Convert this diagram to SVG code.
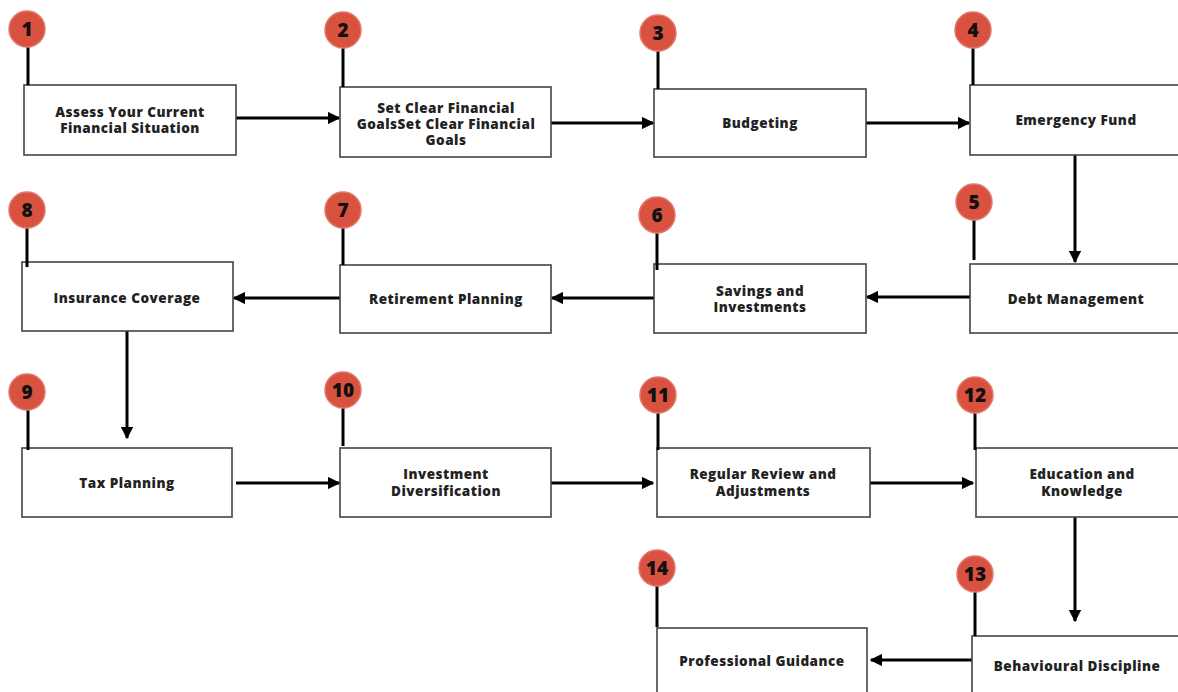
<svg xmlns="http://www.w3.org/2000/svg" width="1178" height="692" viewBox="0 0 1178 692">
<defs>
<marker id="ah" viewBox="0 0 10 10" refX="9" refY="5" markerWidth="4.2" markerHeight="4.2" orient="auto" markerUnits="strokeWidth">
<path d="M0,0 L10,5 L0,10 Z" fill="#000"/>
</marker>
</defs>
<style>
.box{fill:#fff;stroke:#444;stroke-width:1.6}
.lbl{font-family:"Open Sans","Liberation Sans",sans-serif;font-weight:800;font-size:13.5px;letter-spacing:0.5px;fill:#222;text-anchor:middle}
.badge{fill:#d9513f;stroke:#e07a6c;stroke-width:1.5}
.num{font-family:"Open Sans","Liberation Sans",sans-serif;font-weight:800;font-size:19px;fill:#111;text-anchor:middle}
.stem{stroke:#000;stroke-width:3}
.conn{stroke:#000;stroke-width:3;fill:none;marker-end:url(#ah)}
</style>
<rect width="1178" height="692" fill="#fff"/>
<g id="connectors">
<line class="conn" x1="236" y1="118" x2="339" y2="118"/>
<line class="conn" x1="551" y1="123" x2="653" y2="123"/>
<line class="conn" x1="866" y1="123" x2="969" y2="123"/>
<line class="conn" x1="1075" y1="155" x2="1075" y2="262"/>
<line class="conn" x1="970" y1="297" x2="867" y2="297"/>
<line class="conn" x1="654" y1="298" x2="552" y2="298"/>
<line class="conn" x1="340" y1="298" x2="234" y2="298"/>
<line class="conn" x1="127" y1="331" x2="127" y2="438"/>
<line class="conn" x1="236" y1="483" x2="339" y2="483"/>
<line class="conn" x1="551" y1="483" x2="653" y2="483"/>
<line class="conn" x1="870" y1="483" x2="973" y2="483"/>
<line class="conn" x1="1075" y1="517" x2="1075" y2="621"/>
<line class="conn" x1="972" y1="660" x2="871" y2="660"/>
</g>
<g id="node1">
<rect class="box" x="24" y="85" width="212" height="70"/>
<text class="lbl" x="130" y="117">Assess Your Current</text>
<text class="lbl" x="130" y="133">Financial Situation</text>
<line class="stem" x1="28" y1="45" x2="28" y2="85"/>
<circle class="badge" cx="27" cy="29" r="18"/>
<text class="num" x="27" y="36">1</text>
</g>
<g id="node2">
<rect class="box" x="340" y="87" width="211" height="70"/>
<text class="lbl" x="446" y="113">Set Clear Financial</text>
<text class="lbl" x="446" y="129">GoalsSet Clear Financial</text>
<text class="lbl" x="446" y="145">Goals</text>
<line class="stem" x1="343" y1="46" x2="343" y2="87"/>
<circle class="badge" cx="343" cy="30" r="18"/>
<text class="num" x="343" y="37">2</text>
</g>
<g id="node3">
<rect class="box" x="654" y="89" width="212" height="68"/>
<text class="lbl" x="760" y="128">Budgeting</text>
<line class="stem" x1="658" y1="49" x2="658" y2="89"/>
<circle class="badge" cx="658" cy="33" r="18"/>
<text class="num" x="658" y="40">3</text>
</g>
<g id="node4">
<rect class="box" x="970" y="85" width="212" height="70"/>
<text class="lbl" x="1076" y="125">Emergency Fund</text>
<line class="stem" x1="973" y1="46" x2="973" y2="85"/>
<circle class="badge" cx="973" cy="30" r="18"/>
<text class="num" x="973" y="37">4</text>
</g>
<g id="node5">
<rect class="box" x="970" y="264" width="212" height="69"/>
<text class="lbl" x="1076" y="304">Debt Management</text>
<line class="stem" x1="974" y1="218" x2="974" y2="260"/>
<circle class="badge" cx="974" cy="202" r="18"/>
<text class="num" x="974" y="209">5</text>
</g>
<g id="node6">
<rect class="box" x="654" y="264" width="212" height="69"/>
<text class="lbl" x="760" y="296">Savings and</text>
<text class="lbl" x="760" y="312">Investments</text>
<line class="stem" x1="657" y1="231" x2="657" y2="270"/>
<circle class="badge" cx="657" cy="215" r="18"/>
<text class="num" x="657" y="222">6</text>
</g>
<g id="node7">
<rect class="box" x="340" y="265" width="211" height="68"/>
<text class="lbl" x="446" y="304">Retirement Planning</text>
<line class="stem" x1="343" y1="226" x2="343" y2="265"/>
<circle class="badge" cx="343" cy="210" r="18"/>
<text class="num" x="343" y="217">7</text>
</g>
<g id="node8">
<rect class="box" x="22" y="262" width="211" height="69"/>
<text class="lbl" x="127" y="303">Insurance Coverage</text>
<line class="stem" x1="27" y1="226" x2="27" y2="267"/>
<circle class="badge" cx="27" cy="210" r="18"/>
<text class="num" x="27" y="217">8</text>
</g>
<g id="node9">
<rect class="box" x="22" y="448" width="210" height="69"/>
<text class="lbl" x="127" y="488">Tax Planning</text>
<line class="stem" x1="28" y1="408" x2="28" y2="450"/>
<circle class="badge" cx="27" cy="392" r="18"/>
<text class="num" x="27" y="399">9</text>
</g>
<g id="node10">
<rect class="box" x="340" y="448" width="211" height="69"/>
<text class="lbl" x="446" y="479">Investment</text>
<text class="lbl" x="446" y="496">Diversification</text>
<line class="stem" x1="343" y1="406" x2="343" y2="446"/>
<circle class="badge" cx="343" cy="390" r="18"/>
<text class="num" x="343" y="397">10</text>
</g>
<g id="node11">
<rect class="box" x="657" y="448" width="213" height="69"/>
<text class="lbl" x="763" y="479">Regular Review and</text>
<text class="lbl" x="763" y="496">Adjustments</text>
<line class="stem" x1="658" y1="411" x2="658" y2="450"/>
<circle class="badge" cx="658" cy="395" r="18"/>
<text class="num" x="658" y="402">11</text>
</g>
<g id="node12">
<rect class="box" x="976" y="448" width="206" height="69"/>
<text class="lbl" x="1082" y="479">Education and</text>
<text class="lbl" x="1082" y="496">Knowledge</text>
<line class="stem" x1="975" y1="411" x2="975" y2="450"/>
<circle class="badge" cx="975" cy="395" r="18"/>
<text class="num" x="975" y="402">12</text>
</g>
<g id="node13">
<rect class="box" x="972" y="636" width="210" height="70"/>
<text class="lbl" x="1077" y="671">Behavioural Discipline</text>
<line class="stem" x1="975" y1="590" x2="975" y2="636"/>
<circle class="badge" cx="975" cy="574" r="18"/>
<text class="num" x="975" y="581">13</text>
</g>
<g id="node14">
<rect class="box" x="657" y="628" width="210" height="78"/>
<text class="lbl" x="762" y="666">Professional Guidance</text>
<line class="stem" x1="657" y1="584" x2="657" y2="627"/>
<circle class="badge" cx="657" cy="568" r="18"/>
<text class="num" x="657" y="575">14</text>
</g>
</svg>
